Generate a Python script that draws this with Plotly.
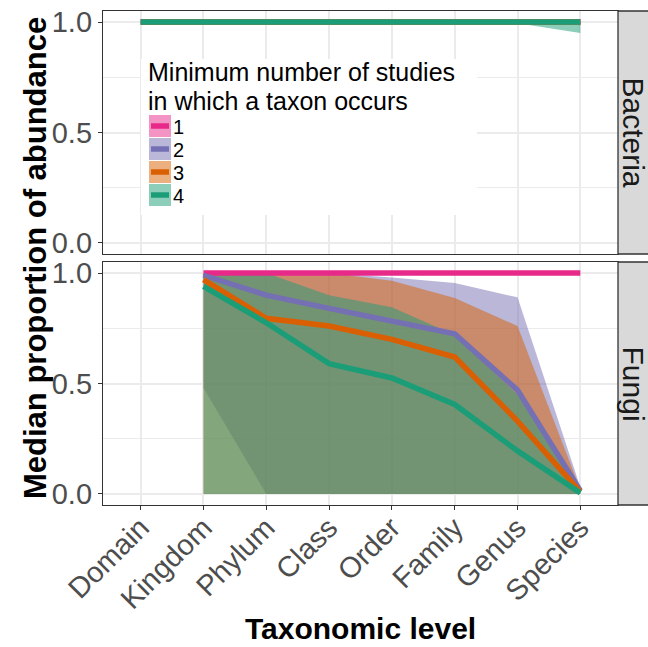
import plotly.graph_objects as go

W, H = 648, 647

# ---------------- data ----------------
levels = ["Domain", "Kingdom", "Phylum", "Class", "Order", "Family", "Genus", "Species"]
series_names = ["1", "2", "3", "4"]
series_colors = ["#E7298A", "#7570B3", "#D95F02", "#1B9E77"]

# Bacteria panel: median lines
bac_line_1 = [1.0, 1.0, 1.0, 1.0, 1.0, 1.0, 1.0, 1.0]
bac_line_2 = [1.0, 1.0, 1.0, 1.0, 1.0, 1.0, 1.0, 1.0]
bac_line_3 = [1.0, 1.0, 1.0, 1.0, 1.0, 1.0, 1.0, 1.0]
bac_line_4 = [1.0, 1.0, 1.0, 1.0, 1.0, 1.0, 1.0, 1.0]
# Bacteria panel: ribbons (upper / lower)
bac_upper_1 = [1.0, 1.0, 1.0, 1.0, 1.0, 1.0, 1.0, 1.0]
bac_lower_1 = [1.0, 1.0, 1.0, 1.0, 1.0, 1.0, 1.0, 1.0]
bac_upper_2 = [1.0, 1.0, 1.0, 1.0, 1.0, 1.0, 1.0, 1.0]
bac_lower_2 = [1.0, 1.0, 1.0, 1.0, 1.0, 1.0, 1.0, 0.99]
bac_upper_3 = [1.0, 1.0, 1.0, 1.0, 1.0, 1.0, 1.0, 1.0]
bac_lower_3 = [1.0, 1.0, 1.0, 1.0, 1.0, 1.0, 1.0, 0.985]
bac_upper_4 = [1.0, 1.0, 1.0, 1.0, 1.0, 1.0, 1.0, 1.0]
bac_lower_4 = [1.0, 1.0, 1.0, 1.0, 1.0, 1.0, 0.995, 0.95]

# Fungi panel: median lines (no Domain value)
fun_line_1 = [None, 1.0, 1.0, 1.0, 1.0, 1.0, 1.0, 1.0]
fun_line_2 = [None, 0.99, 0.90, 0.84, 0.785, 0.725, 0.47, 0.015]
fun_line_3 = [None, 0.97, 0.795, 0.76, 0.70, 0.62, 0.33, 0.01]
fun_line_4 = [None, 0.94, 0.775, 0.59, 0.525, 0.405, 0.195, 0.005]
# Fungi panel: ribbons (upper / lower)
fun_upper_1 = [None, 1.0, 1.0, 1.0, 1.0, 1.0, 1.0, 1.0]
fun_lower_1 = [None, 1.0, 1.0, 1.0, 1.0, 1.0, 1.0, 1.0]
fun_upper_2 = [None, 1.0, 1.0, 1.0, 0.98, 0.955, 0.89, 0.03]
fun_lower_2 = [None, 0.48, 0.0, 0.0, 0.0, 0.0, 0.0, 0.0]
fun_upper_3 = [None, 1.0, 1.0, 1.0, 0.965, 0.887, 0.76, 0.02]
fun_lower_3 = [None, 0.0, 0.0, 0.0, 0.0, 0.0, 0.0, 0.0]
fun_upper_4 = [None, 1.0, 1.0, 0.90, 0.845, 0.72, 0.45, 0.01]
fun_lower_4 = [None, 0.0, 0.0, 0.0, 0.0, 0.0, 0.0, 0.0]

panel_names = ["Bacteria", "Fungi"]
y_ticks = [0.0, 0.5, 1.0]
legend_title_lines = ["Minimum number of studies", "in which a taxon occurs"]
x_title = "Taxonomic level"
y_title = "Median proportion of abundance"

# ---------------- helpers ----------------
def px_x(p):
    return p / W

def px_y(p):
    return 1 - p / H

def rgba(hexc, a):
    h = hexc.lstrip("#")
    r, g, b = int(h[0:2], 16), int(h[2:4], 16), int(h[4:6], 16)
    return f"rgba({r},{g},{b},{a})"

FONT = "Liberation Sans, Arial, Helvetica, sans-serif"
ALPHA = 0.5
LW = 5.5

fig = go.Figure()

panels = [
    ("x", "y",
     [bac_line_1, bac_line_2, bac_line_3, bac_line_4],
     [bac_upper_1, bac_upper_2, bac_upper_3, bac_upper_4],
     [bac_lower_1, bac_lower_2, bac_lower_3, bac_lower_4]),
    ("x2", "y2",
     [fun_line_1, fun_line_2, fun_line_3, fun_line_4],
     [fun_upper_1, fun_upper_2, fun_upper_3, fun_upper_4],
     [fun_lower_1, fun_lower_2, fun_lower_3, fun_lower_4]),
]

for xa, ya, lines, uppers, lowers in panels:
    # ribbons first
    for s in range(4):
        idx = [i for i in range(len(levels)) if uppers[s][i] is not None]
        xs = [levels[i] for i in idx]
        up = [uppers[s][i] for i in idx]
        lo = [lowers[s][i] for i in idx]
        fig.add_trace(go.Scatter(
            x=xs + xs[::-1], y=up + lo[::-1], mode="lines",
            line=dict(width=0, color=rgba(series_colors[s], 0)),
            fill="toself", fillcolor=rgba(series_colors[s], ALPHA),
            xaxis=xa, yaxis=ya, showlegend=False, hoverinfo="skip"))
    # then lines
    for s in range(4):
        idx = [i for i in range(len(levels)) if lines[s][i] is not None]
        fig.add_trace(go.Scatter(
            x=[levels[i] for i in idx], y=[lines[s][i] for i in idx],
            mode="lines", line=dict(width=LW, color=series_colors[s]),
            xaxis=xa, yaxis=ya, showlegend=False, name=series_names[s]))

# panel geometry (pixels)
PL, PR = 103, 618
TOP = (11, 254)
BOT = (262, 505)

grid_major = "#EBEBEB"
axis_common = dict(
    showline=True, mirror=True, linecolor="#333333", linewidth=1.3,
    zeroline=False, gridcolor=grid_major, gridwidth=1.6, automargin=False,
    ticklen=4, tickwidth=1.3, tickcolor="#333333",
    tickfont=dict(family=FONT, size=29, color="#4D4D4D"),
)

fig.update_layout(
    width=W, height=H, margin=dict(l=0, r=0, t=0, b=0, pad=0),
    paper_bgcolor="white", plot_bgcolor="white", showlegend=False,
    xaxis=dict(domain=[px_x(PL), px_x(PR)], anchor="y", type="category",
               categoryorder="array", categoryarray=levels, range=[-0.6, 7.6],
               showticklabels=False, ticks="", **axis_common),
    xaxis2=dict(domain=[px_x(PL), px_x(PR)], anchor="y2", type="category",
                categoryorder="array", categoryarray=levels, range=[-0.6, 7.6],
                tickangle=-45, ticks="outside", ticklabelstandoff=-11, **axis_common),
    yaxis=dict(domain=[px_y(TOP[1]), px_y(TOP[0])], anchor="x", range=[-0.05, 1.05],
               tickvals=y_ticks, tickformat=".1f", ticks="outside",
               minor=dict(dtick=0.25, tick0=0, showgrid=True, gridcolor=grid_major,
                          gridwidth=0.8, ticks=""),
               **axis_common),
    yaxis2=dict(domain=[px_y(BOT[1]), px_y(BOT[0])], anchor="x2", range=[-0.05, 1.05],
                tickvals=y_ticks, tickformat=".1f", ticks="outside",
                minor=dict(dtick=0.25, tick0=0, showgrid=True, gridcolor=grid_major,
                           gridwidth=0.8, ticks=""),
                **axis_common),
)

shapes = []
annotations = []

# facet strips
for (t, b), name in zip([TOP, BOT], panel_names):
    shapes.append(dict(type="rect", xref="paper", yref="paper",
                       x0=px_x(PR), x1=px_x(W + 5), y0=px_y(b), y1=px_y(t),
                       fillcolor="#D9D9D9", line=dict(color="#333333", width=1.3),
                       layer="above"))
    annotations.append(dict(xref="paper", yref="paper", x=px_x(633), y=px_y((t + b) / 2),
                            text=name, showarrow=False, textangle=90,
                            xanchor="center", yanchor="middle",
                            font=dict(family=FONT, size=30, color="#1A1A1A")))

# legend (manual, ggplot-style keys)
LEG_L, LEG_T, LEG_R, LEG_B = 141, 59, 477, 215
shapes.append(dict(type="rect", xref="paper", yref="paper",
                   x0=px_x(LEG_L), x1=px_x(LEG_R), y0=px_y(LEG_B), y1=px_y(LEG_T),
                   fillcolor="white", line=dict(width=0), layer="above"))
for txt, yc in zip(legend_title_lines, [72, 100]):
    annotations.append(dict(xref="paper", yref="paper", x=px_x(146), y=px_y(yc),
                            text=txt, showarrow=False, align="left",
                            xanchor="left", yanchor="middle", height=27,
                            font=dict(family=FONT, size=25, color="black")))
KEY_T0, KEY_STEP, KEY_SZ = 115, 23, 22
for s in range(4):
    kt = KEY_T0 + s * KEY_STEP
    shapes.append(dict(type="rect", xref="paper", yref="paper",
                       x0=px_x(149), x1=px_x(149 + KEY_SZ), y0=px_y(kt + KEY_SZ), y1=px_y(kt),
                       fillcolor=rgba(series_colors[s], ALPHA), line=dict(width=0),
                       layer="above"))
    shapes.append(dict(type="line", xref="paper", yref="paper",
                       x0=px_x(151), x1=px_x(169), y0=px_y(kt + KEY_SZ / 2),
                       y1=px_y(kt + KEY_SZ / 2),
                       line=dict(color=series_colors[s], width=LW), layer="above"))
    annotations.append(dict(xref="paper", yref="paper", x=px_x(171), y=px_y(kt + KEY_SZ / 2 + 1),
                            text=series_names[s], showarrow=False,
                            xanchor="left", yanchor="middle", height=20,
                            font=dict(family=FONT, size=20, color="black")))

# axis titles
annotations.append(dict(xref="paper", yref="paper", x=px_x(35), y=px_y((TOP[0] + BOT[1]) / 2),
                        text=f"<b>{y_title}</b>", showarrow=False, textangle=-90,
                        xanchor="center", yanchor="middle",
                        font=dict(family=FONT, size=31, color="black")))
annotations.append(dict(xref="paper", yref="paper", x=px_x((PL + PR) / 2), y=px_y(647),
                        text=f"<b>{x_title}</b>", showarrow=False, height=34,
                        xanchor="center", yanchor="bottom",
                        font=dict(family=FONT, size=30, color="black")))

fig.update_layout(shapes=shapes, annotations=annotations)
fig.write_html("out.html")
